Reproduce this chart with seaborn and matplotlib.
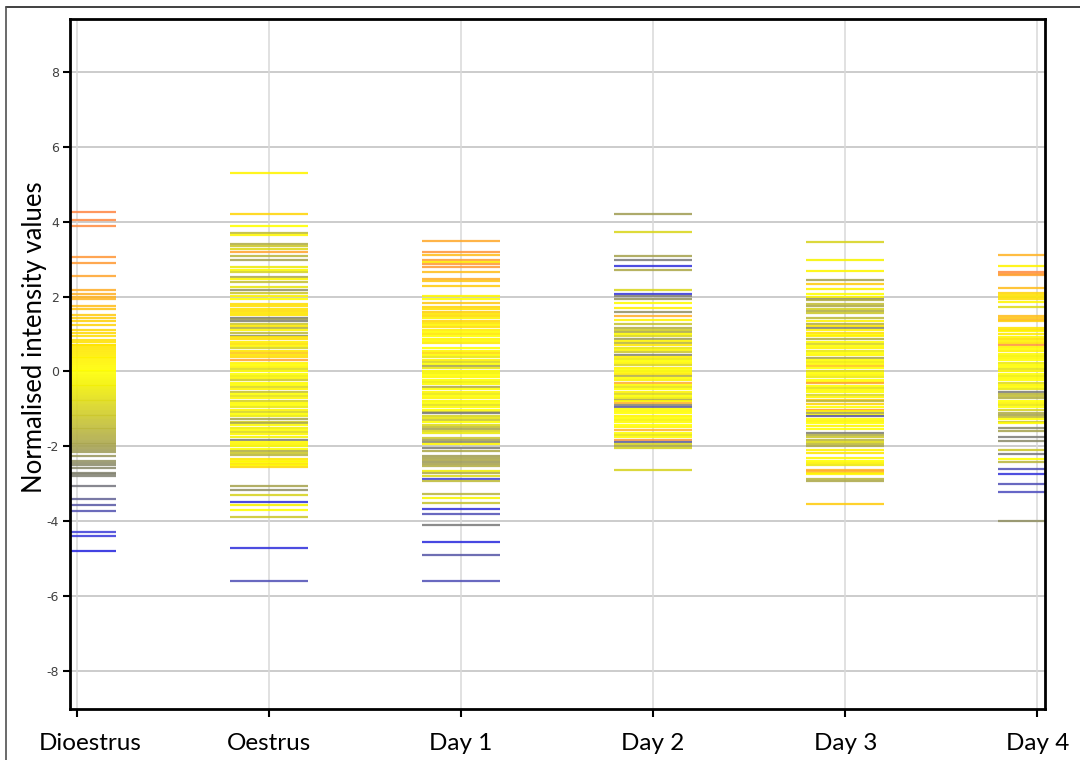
import numpy as np
import pandas as pd
import matplotlib
matplotlib.use("Agg")
import matplotlib.pyplot as plt
from matplotlib.colors import LinearSegmentedColormap
from matplotlib.lines import Line2D
from matplotlib.transforms import ScaledTranslation
import seaborn as sns

# ---------------- data ----------------
conditions = ["Dioestrus", "Oestrus", "Day 1", "Day 2", "Day 3", "Day 4"]

dioestrus = [4.25, 4.04, 3.88, 3.07, 2.91, 2.54, 2.17, 2.06, 2.00, 1.95, 1.76, 1.68, 1.52, 1.44,
             1.34, 1.23, 1.10, 1.02, 0.94, 0.83, 0.78, 0.72,
             0.70, 0.65, 0.60, 0.55, 0.50, 0.45, 0.40, 0.35, 0.30, 0.25, 0.20, 0.15, 0.10, 0.05,
             0.00, -0.05, -0.10, -0.15, -0.20, -0.25, -0.30, -0.35, -0.40, -0.45, -0.50, -0.55,
             -0.60, -0.65, -0.70, -0.75, -0.80, -0.85, -0.90, -0.95, -1.00, -1.05, -1.10, -1.15,
             -1.20, -1.25, -1.30, -1.35, -1.40, -1.45, -1.50, -1.55, -1.60, -1.65, -1.70, -1.75,
             -1.80, -1.85, -1.90, -1.95, -2.00, -2.05, -2.10, -2.15,
             -2.25, -2.38, -2.44, -2.51, -2.57, -2.70, -2.74, -2.78, -3.05, -3.40, -3.56, -3.72,
             -4.28, -4.39, -4.81]
dioestrus_col = list(dioestrus)

oestrus = [5.30, 4.22, 3.90, 3.70, 3.66, 3.40, 3.35, 3.28, 3.18, 3.08, 2.98, 2.78, 2.72, 2.65,
           2.53, 2.46, 2.40, 2.27, 2.17, 2.09, 2.01, 1.94,
           1.80, 1.74, 1.68, 1.62, 1.56, 1.50, 1.44, 1.39, 1.34, 1.28, 1.22, 1.16, 1.10, 1.04,
           0.96, 0.92, 0.86, 0.80, 0.74, 0.68, 0.62, 0.56, 0.50, 0.44, 0.38, 0.30, 0.24, 0.18,
           0.12, 0.06, 0.00, -0.06, -0.12, -0.18, -0.24, -0.30, -0.36, -0.42, -0.48, -0.54,
           -0.60, -0.66, -0.72, -0.78, -0.84, -0.90, -0.96, -1.02, -1.08, -1.14, -1.20, -1.28,
           -1.34, -1.37, -1.44, -1.50, -1.56, -1.62, -1.68, -1.74, -1.82, -1.88, -1.94, -2.00,
           -2.06, -2.12, -2.18, -2.22, -2.34, -2.38, -2.42, -2.46, -2.50, -2.54,
           -3.05, -3.18, -3.30, -3.48, -3.58, -3.69, -3.88, -4.73, -5.59]
oestrus_col = [0.3, 1.2, 0.0, -1.5, 0.2, -1.8, -1.2, -0.8, 2.6, -1.6, -2.0, -0.5, 0.1, -1.0,
               -1.9, 0.2, -1.4, -0.6, -2.4, -1.2, 0.3, 0.0,
               0.9, 0.8, 0.7, 0.9, 0.6, 0.7, -3.0, -2.2, -2.8, -1.2, 0.5, -1.8, 0.2, -1.5,
               -2.6, 0.6, 0.9, 0.4, 0.8, 0.2, -1.0, 0.6, 1.6, 0.7, 1.0, 2.6, 0.2, 0.0,
               0.3, -0.8, 0.1, 0.0, -0.4, 0.2, -1.2, 0.1, 0.0, -0.9, 0.3, -1.4,
               0.0, -0.7, 0.2, -1.1, 0.1, 0.0, -0.6, 0.2, -1.0, 0.0, -0.5, -2.0,
               -1.0, -1.9, 0.1, -0.4, 0.0, -0.8, 0.2, -0.3, -3.0, 0.1, 0.3, -0.2,
               0.0, -1.8, -1.2, -1.6, 0.6, 0.3, 0.1, 0.8, 0.2, 1.0,
               -2.0, -2.4, -1.0, -4.6, -0.3, 0.0, -1.2, -4.6, -3.8]

day1 = [3.50, 3.18, 3.10, 2.97, 2.92, 2.86, 2.78, 2.65, 2.48, 2.42, 2.29, 2.01, 1.93, 1.82,
        1.72, 1.66, 1.60, 1.54, 1.48, 1.42, 1.36, 1.30, 1.24, 1.18, 1.12, 1.06, 1.00, 0.94,
        0.88, 0.82, 0.76, 0.62, 0.56, 0.50, 0.44, 0.38, 0.32, 0.26, 0.20, 0.14, 0.08, 0.02,
        -0.04, -0.10, -0.16, -0.22, -0.28, -0.34, -0.42, -0.48, -0.54, -0.60, -0.66, -0.72,
        -0.78, -0.84, -0.90, -0.96, -1.02, -1.08, -1.12, -1.18, -1.24, -1.30, -1.36, -1.42,
        -1.48, -1.55, -1.60, -1.64,
        -1.77, -1.82, -1.88, -1.95, -2.04, -2.13, -2.27, -2.32, -2.37, -2.42, -2.47, -2.52,
        -2.67, -2.72, -2.80, -2.87, -2.93, -3.27, -3.39, -3.52, -3.67, -3.81, -4.09, -4.57,
        -4.90, -5.59]
day1_col = [2.4, 3.2, 1.8, 2.8, 0.5, 3.0, 2.9, 1.8, 2.2, 1.6, 1.5, 0.2, 0.0, 1.6,
            1.2, 0.8, 1.4, 0.6, 1.0, 0.3, 1.2, 0.7, 0.2, 0.9, 0.4, 0.1, 0.6, 0.0,
            0.3, 0.1, 0.5, 0.0, 0.2, 1.0, 0.1, -0.6, 0.3, -0.9, 0.0, -2.0, -0.5, 0.1,
            -0.3, 0.0, 0.2, 0.0, -0.4, 0.1, -1.9, 0.0, 0.2, -0.5, 0.0, 0.3,
            -0.2, 0.0, -0.7, 0.1, 0.0, -1.2, -3.0, -1.0, -0.6, -1.3, 0.0, -0.8,
            -1.4, -2.0, -0.9, -0.5,
            -1.2, -2.0, -2.6, 0.2, -2.9, -1.9, -2.1, -2.0, -1.9, -2.2, -2.0, -1.8,
            -0.4, -1.8, -0.8, -4.3, -1.5, -1.6, -0.2, -1.3, -4.6, -3.8, -3.0, -4.7,
            -3.6, -3.8]

day2 = [4.22, 3.72, 3.08, 2.99, 2.83, 2.72, 2.17, 2.08, 2.01, 1.93, 1.84, 1.70, 1.58, 1.47,
        1.37, 1.26,
        1.17, 1.12, 1.06, 1.00, 0.94, 0.88, 0.82, 0.77, 0.70, 0.64, 0.58, 0.52, 0.45, 0.40,
        0.34, 0.28, 0.22, 0.16, 0.10, 0.04, -0.02, -0.08, -0.13, -0.18, -0.24, -0.30, -0.36,
        -0.42, -0.48, -0.54, -0.60, -0.66, -0.70, -0.75, -0.80, -0.84, -0.90, -0.94, -1.00,
        -1.06, -1.12, -1.18, -1.24, -1.30, -1.36, -1.42, -1.48, -1.57, -1.64, -1.70, -1.76,
        -1.82, -1.89, -1.95, -2.00, -2.04,
        -2.63]
day2_col = [-2.1, -0.9, -2.0, -3.0, -4.6, -1.9, -0.9, -4.5, -2.8, -2.3, 0.1, 0.4, -2.4, 2.2,
            0.2, -1.3,
            -1.8, -1.1, -1.9, 0.1, -0.9, -2.2, 0.3, -1.6, 0.6, -0.6, 0.2, -1.2, -2.8, 0.4,
            -0.5, 0.0, 0.2, -0.9, 0.3, 0.0, 0.1, 0.5, -1.8, 0.0, -0.3, 2.2, 0.1,
            -0.7, 0.0, 0.3, -0.9, 0.0, -0.4, -2.0, 0.2, 2.0, -2.6, -3.6, 0.0,
            0.1, 0.0, 0.3, 0.0, -0.3, 0.1, 0.0, 0.2, 2.0, 0.0, -0.6, 0.1,
            3.0, -3.5, -1.0, -1.9, -1.0,
            -1.0]

day3 = [3.47, 2.99, 2.68, 2.44, 2.34, 2.20, 2.06, 2.00, 1.94, 1.90,
        1.80, 1.74, 1.68, 1.62, 1.57, 1.42, 1.34, 1.28, 1.22, 1.16, 1.10, 1.04, 0.98, 0.94,
        0.86, 0.80, 0.74, 0.68, 0.62, 0.56, 0.50, 0.44, 0.37, 0.32, 0.26, 0.20, 0.14, 0.08,
        0.02, -0.04, -0.10, -0.16, -0.22, -0.28, -0.32, -0.38, -0.44, -0.50, -0.56, -0.62,
        -0.68, -0.75, -0.80, -0.88, -0.94, -1.02, -1.06, -1.10, -1.16, -1.20, -1.26, -1.32,
        -1.37, -1.47, -1.55, -1.64, -1.70, -1.76, -1.82, -1.88, -1.94, -2.00,
        -2.09, -2.17, -2.30, -2.40, -2.45, -2.50, -2.64, -2.67, -2.72, -2.75, -2.88, -2.94,
        -3.53]
day3_col = [-1.0, -0.3, 0.2, -2.0, 1.5, 0.3, 0.0, 0.2, -2.4, -1.8,
            -1.4, -1.9, -1.0, -1.8, -1.2, -1.5, 0.3, -1.8, 0.6, -2.8, 0.2, 0.9, 0.0, 0.4,
            -1.8, 0.1, -1.0, 0.0, 0.3, -0.6, 0.0, 0.2, -2.0, 0.0, -0.4, 0.1, 1.6, 0.0,
            -0.8, 0.0, 0.2, -0.5, 0.0, 0.1, 2.6, 0.0, -0.7, 0.1, 0.0, -0.9,
            0.2, 1.4, -1.6, 1.2, 0.0, 3.2, 0.4, -2.0, 0.0, -3.6, 0.0, 0.2,
            0.0, 0.2, 0.0, -2.9, -1.8, -1.2, -1.6, -0.8, -1.5, -1.9,
            0.3, 0.6, 0.2, 0.0, 0.3, -0.5, 2.0, 2.2, 1.2, 0.2, -1.6, -1.9,
            1.5]

day4 = [3.10, 2.81, 2.65, 2.61, 2.59, 2.22, 2.09, 2.04, 1.99, 1.93, 1.87, 1.71, 1.47, 1.42,
        1.38, 1.34, 1.17, 1.12, 1.07,
        0.99, 0.93, 0.87, 0.81, 0.75, 0.72, 0.66, 0.60, 0.54, 0.48, 0.42, 0.36, 0.30, 0.24,
        0.18, 0.12, 0.06, 0.00, -0.06, -0.12, -0.18, -0.24, -0.30, -0.36, -0.42, -0.48,
        -0.54, -0.60, -0.66, -0.72, -0.78, -0.84, -0.90, -0.96, -1.02, -1.10, -1.16, -1.22,
        -1.28, -1.34, -1.37,
        -1.50, -1.60, -1.74, -1.87, -2.09, -2.20, -2.33, -2.41, -2.60, -2.73, -3.00, -3.21,
        -4.00]
day4_col = [2.0, 0.3, 3.8, 3.2, 2.6, 1.8, 1.2, 0.8, 0.6, 0.9, 0.2, -0.8, 1.8, 1.6,
            2.0, 1.4, 0.6, 0.9, 0.3,
            0.5, 0.2, 0.8, 0.3, 0.6, 3.4, 0.2, 0.0, 0.4, 0.1, -0.3, 0.2, 0.0, -0.5,
            0.1, 0.0, -0.7, 0.2, 0.0, -0.4, 0.1, 0.0, -0.8, 0.2, 0.0, -0.6,
            -3.0, -1.6, -1.4, -1.8, 0.0, 0.2, -0.5, 0.0, -1.0, -1.8, -2.0, -1.5,
            0.0, -1.2, 0.1,
            -2.5, -2.0, -2.9, -2.5, -1.2, -3.0, 0.0, -1.6, -3.8, -4.5, -3.8, -3.9,
            -2.4]

series = [dioestrus, oestrus, day1, day2, day3, day4]
series_col = [dioestrus_col, oestrus_col, day1_col, day2_col, day3_col, day4_col]

frames = []
for cond, vals, cols in zip(conditions, series, series_col):
    frames.append(pd.DataFrame({"condition": cond, "value": vals, "score": cols}))
df = pd.concat(frames, ignore_index=True)

# ---------------- colours ----------------
stops = [(-5.0, "#2020e0"), (-4.2, "#4848d8"), (-3.6, "#5a5aa8"), (-3.0, "#7c7c7c"),
         (-2.5, "#8e8e6c"), (-2.0, "#a8a450"), (-1.0, "#d6d222"), (-0.3, "#f6f400"),
         (0.0, "#ffff00"), (0.7, "#ffe400"), (1.5, "#ffcc10"), (2.0, "#ffb428"),
         (3.0, "#ff9a3a"), (4.3, "#ff8848")]
lo, hi = stops[0][0], stops[-1][0]
cmap = LinearSegmentedColormap.from_list(
    "expr", [((v - lo) / (hi - lo), c) for v, c in stops])

# ---------------- figure ----------------
sns.set_style("white")
plt.rcParams["font.family"] = ["Lato", "DejaVu Sans"]

fig, ax = plt.subplots(figsize=(10.8, 7.6), dpi=100)
fig.subplots_adjust(left=0.0648, right=0.9676, top=0.975, bottom=0.0671)

ax.set_axisbelow(True)
for yv in range(-8, 9, 2):
    ax.axhline(yv, color="#c8c8c8", lw=1.3, zorder=0)
for xv in range(len(conditions)):
    ax.axvline(xv, color="#d9d9d9", lw=1.1, zorder=0)

sns.scatterplot(data=df, x="condition", y="value", hue="score", palette=cmap,
                hue_norm=(lo, hi), marker="_", s=3150, linewidth=1.6, alpha=0.88,
                legend=False, ax=ax, zorder=2)

ax.set_xlim(-0.036, 5.04)
ax.set_ylim(-9.02, 9.42)
ax.set_yticks(range(-8, 9, 2))
ax.set_yticklabels([str(v) for v in range(-8, 9, 2)],
                   family=["Liberation Sans Narrow", "DejaVu Sans"], fontsize=9, color="#404040")
ax.set_xticks(range(len(conditions)))
ax.set_xticklabels(conditions, fontsize=17.5, color="black")
ax.tick_params(axis="y", length=5, width=1.5, color="black", pad=3, left=True)
ax.tick_params(axis="x", length=6, width=1.5, color="black", pad=11, bottom=True)

# first category label sits a little right of its tick, as in the original export
first = ax.get_xticklabels()[0]
first.set_transform(first.get_transform() + ScaledTranslation(0.13, 0, fig.dpi_scale_trans))

ax.set_xlabel("")
ax.set_ylabel("Normalised intensity values", fontsize=18.5, color="black")
ax.yaxis.set_label_coords(-0.024, 0.539)

for sp in ax.spines.values():
    sp.set_visible(True)
    sp.set_color("black")
    sp.set_linewidth(2)

# outer frame lines of the exported picture
fig.add_artist(Line2D([0.0058, 1.0], [0.9905, 0.9905], transform=fig.transFigure,
                      color="#202020", lw=1.2))
fig.add_artist(Line2D([0.0058, 0.0058], [0.0, 0.9905], transform=fig.transFigure,
                      color="#505050", lw=1.2))

fig.savefig("out.png", dpi=100)
